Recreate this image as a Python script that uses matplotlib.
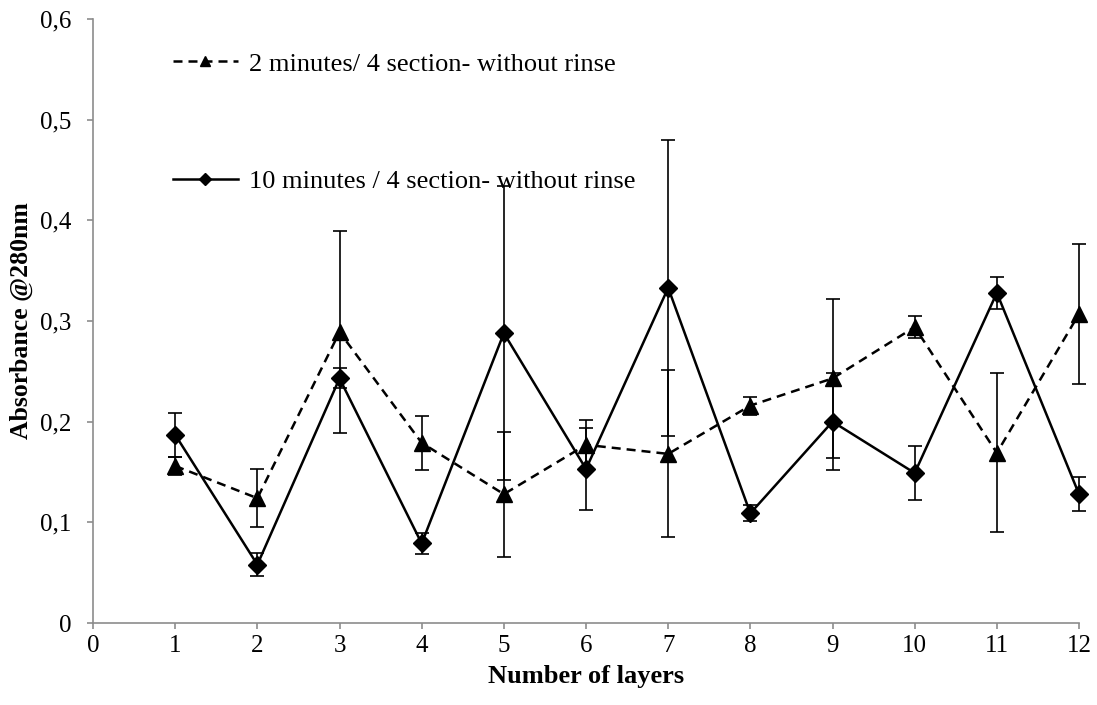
import matplotlib
matplotlib.use("Agg")
import matplotlib.pyplot as plt
from matplotlib.ticker import FuncFormatter, MultipleLocator

plt.rcParams['font.family'] = ['Liberation Serif', 'DejaVu Serif']

# Absorbance readings per number of layers
layers = [1, 2, 3, 4, 5, 6, 7, 8, 9, 10, 11, 12]
abs_2min = [0.156, 0.124, 0.289, 0.179, 0.128, 0.177, 0.168, 0.216, 0.243, 0.294, 0.169, 0.307]
err_2min = [0.009, 0.029, 0.100, 0.027, 0.062, 0.025, 0.083, 0.009, 0.079, 0.011, 0.079, 0.070]
abs_10min = [0.187, 0.058, 0.243, 0.079, 0.288, 0.153, 0.333, 0.109, 0.200, 0.149, 0.328, 0.128]
err_10min = [0.022, 0.0115, 0.010, 0.010, 0.146, 0.041, 0.147, 0.008, 0.048, 0.027, 0.016, 0.017]

label_2min = '2 minutes/ 4 section- without rinse'
label_10min = '10 minutes / 4 section- without rinse'

fig = plt.figure(figsize=(10.97, 7.05), dpi=100)
ax = fig.add_axes([0.0848, 0.1163, 0.8988, 0.8567])

series = []
series.append(ax.errorbar(layers, abs_2min, yerr=err_2min, color='black', linewidth=1.8,
                          dashes=(3.6, 2.4), marker='^', markersize=12,
                          elinewidth=1.2, capsize=5, capthick=1.2,
                          label=label_2min, zorder=3))
series.append(ax.errorbar(layers, abs_10min, yerr=err_10min, color='black', linewidth=1.8,
                          linestyle='-', marker='D', markersize=9,
                          elinewidth=1.2, capsize=5, capthick=1.2,
                          label=label_10min, zorder=4))
# let the last points and their caps spill over the axes edge
for cont in series:
    for artist in cont.get_children():
        artist.set_clip_on(False)

ax.set_xlim(0, 12)
ax.set_ylim(0, 0.6)
ax.xaxis.set_major_locator(MultipleLocator(1))
ax.yaxis.set_major_locator(MultipleLocator(0.1))
ax.yaxis.set_major_formatter(FuncFormatter(
    lambda v, pos: '0' if abs(v) < 1e-9 else f'{v:.1f}'.replace('.', ',')))

for side in ('top', 'right'):
    ax.spines[side].set_visible(False)
for side in ('left', 'bottom'):
    ax.spines[side].set_color('#8c8c8c')
    ax.spines[side].set_linewidth(1.2)
ax.tick_params(axis='both', direction='out', length=4.5, width=1.2,
               color='#8c8c8c', labelsize=18, labelcolor='black')
ax.tick_params(axis='x', pad=4)
ax.tick_params(axis='y', pad=11)

ax.set_xlabel('Number of layers', fontsize=19, fontweight='bold', labelpad=6)
ax.set_ylabel('Absorbance @280nm', fontsize=18.5, fontweight='bold', labelpad=5)

# errorbar containers -> legend handles without the error bars
handles, labels = ax.get_legend_handles_labels()
handles = [h[0] for h in handles]
ax.legend(handles, labels, loc='upper left', bbox_to_anchor=(0.081, 0.945),
          frameon=False, fontsize=19, labelspacing=3.55, handlelength=2.45,
          handletextpad=0.42, borderaxespad=0, borderpad=0, markerscale=0.65)

fig.savefig('out.png', dpi=100, facecolor='white')
